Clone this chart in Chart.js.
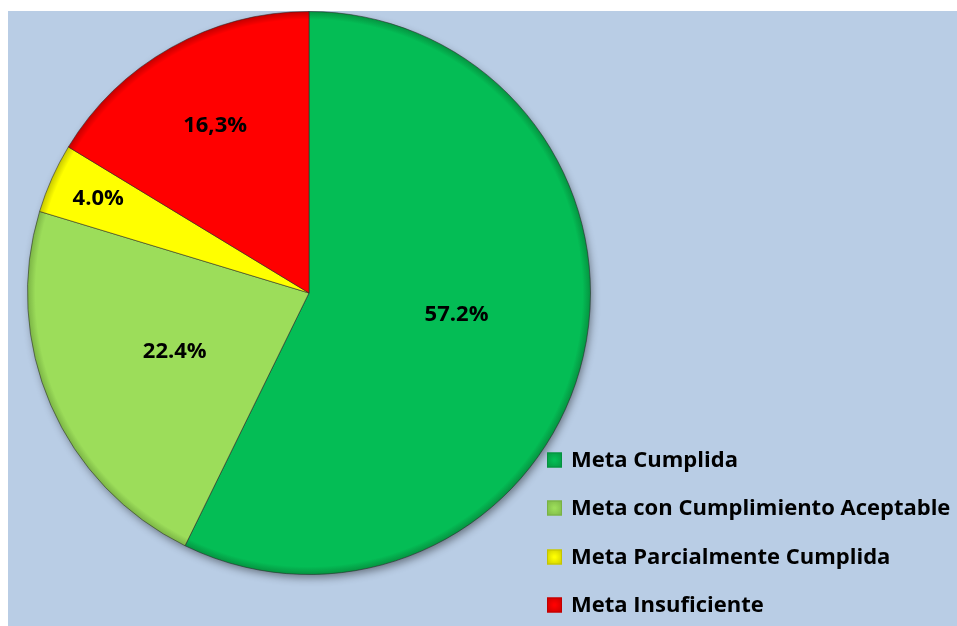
<!DOCTYPE html>
<html>
<head>
<meta charset="utf-8">
<script src="https://cdn.jsdelivr.net/npm/chart.js@4.4.1/dist/chart.umd.min.js"></script>
<style>
  html, body { margin: 0; padding: 0; background: #ffffff; }
  #panel { position: absolute; left: 8px; top: 11px; width: 949px; height: 615px; background: #B9CDE5; }
  canvas { display: block; }
</style>
</head>
<body>
<div id="panel"><canvas id="c" width="949" height="615"></canvas></div>
<script>
// Goal-compliance breakdown (percent of goals)
const categories = ['Meta Cumplida', 'Meta con Cumplimiento Aceptable', 'Meta Parcialmente Cumplida', 'Meta Insuficiente'];
const shares = [57.2, 22.4, 4.0, 16.3];
const shareLabels = ['57.2%', '22.4%', '4.0%', '16,3%'];
const sliceColors = ['#04BD55', '#9CDD5A', '#FFFF00', '#FF0000'];
const rimColors = ['#05913F', '#79B244', '#C4C400', '#C00000'];

// value label placement: radius as a fraction of the pie radius, and a small angular nudge (degrees)
const labelRadius = [0.53, 0.52, 0.82, 0.68];
const labelNudge = [-4.5, 0, 0, 0];

// flat slice colour with a slightly darker rim near the edge
function sliceFill(ctx) {
  const i = ctx.dataIndex;
  const chart = ctx.chart;
  const area = chart.chartArea;
  if (!area || i === undefined) return sliceColors[i] || '#000';
  const cx = (area.left + area.right) / 2;
  const cy = (area.top + area.bottom) / 2;
  const r = Math.min(area.width, area.height) / 2;
  const g = chart.ctx.createRadialGradient(cx, cy, 0, cx, cy, r);
  g.addColorStop(0, sliceColors[i]);
  g.addColorStop(0.97, sliceColors[i]);
  g.addColorStop(1, rimColors[i]);
  return g;
}

const pieShadow = {
  id: 'pieShadow',
  beforeDatasetsDraw(chart) {
    const arc = chart.getDatasetMeta(0).data[0];
    if (!arc) return;
    const { x, y, outerRadius } = arc.getProps(['x', 'y', 'outerRadius'], true);
    const ctx = chart.ctx;
    ctx.save();
    ctx.shadowColor = 'rgba(0,0,0,0.45)';
    ctx.shadowBlur = 9;
    ctx.shadowOffsetX = 2;
    ctx.shadowOffsetY = 4;
    ctx.beginPath();
    ctx.arc(x, y, outerRadius - 1, 0, Math.PI * 2);
    ctx.fillStyle = '#7a8a9a';
    ctx.fill();
    ctx.restore();
  }
};

const valueLabels = {
  id: 'valueLabels',
  afterDatasetsDraw(chart) {
    const ctx = chart.ctx;
    const meta = chart.getDatasetMeta(0);
    ctx.save();
    ctx.font = 'bold 22px "Open Sans"';
    ctx.fillStyle = '#000000';
    ctx.textAlign = 'center';
    ctx.textBaseline = 'middle';
    meta.data.forEach((arc, i) => {
      const p = arc.getProps(['x', 'y', 'startAngle', 'endAngle', 'outerRadius'], true);
      const mid = (p.startAngle + p.endAngle) / 2 + labelNudge[i] * Math.PI / 180;
      const r = p.outerRadius * labelRadius[i];
      ctx.fillText(shareLabels[i], p.x + Math.cos(mid) * r, p.y + Math.sin(mid) * r);
    });
    ctx.restore();
  }
};

const sideLegend = {
  id: 'sideLegend',
  afterDraw(chart) {
    const ctx = chart.ctx;
    const boxX = 539, size = 15, textX = 563;
    const rowY = [449, 497, 546, 594];
    ctx.save();
    ctx.font = 'bold 22px "Open Sans"';
    ctx.textBaseline = 'middle';
    ctx.textAlign = 'left';
    chart.data.labels.forEach((label, i) => {
      const y = rowY[i];
      const top = y - size / 2;
      const g = ctx.createRadialGradient(boxX + size / 2, y, 1, boxX + size / 2, y, size * 0.75);
      g.addColorStop(0, sliceColors[i]);
      g.addColorStop(1, rimColors[i]);
      ctx.fillStyle = g;
      ctx.fillRect(boxX, top, size, size);
      ctx.strokeStyle = rimColors[i];
      ctx.lineWidth = 1;
      ctx.strokeRect(boxX + 0.5, top + 0.5, size - 1, size - 1);
      ctx.fillStyle = '#000000';
      ctx.fillText(label, textX, y + 1);
    });
    ctx.restore();
  }
};

new Chart(document.getElementById('c'), {
  type: 'pie',
  data: {
    labels: categories,
    datasets: [{
      data: shares,
      backgroundColor: sliceFill,
      borderColor: 'rgba(40,40,40,0.55)',
      borderWidth: 1
    }]
  },
  options: {
    responsive: false,
    animation: false,
    layout: { padding: { left: 19, top: 0, right: 366, bottom: 51 } },
    plugins: {
      legend: { display: false },
      tooltip: { enabled: false }
    }
  },
  plugins: [pieShadow, valueLabels, sideLegend]
});
</script>
</body>
</html>
